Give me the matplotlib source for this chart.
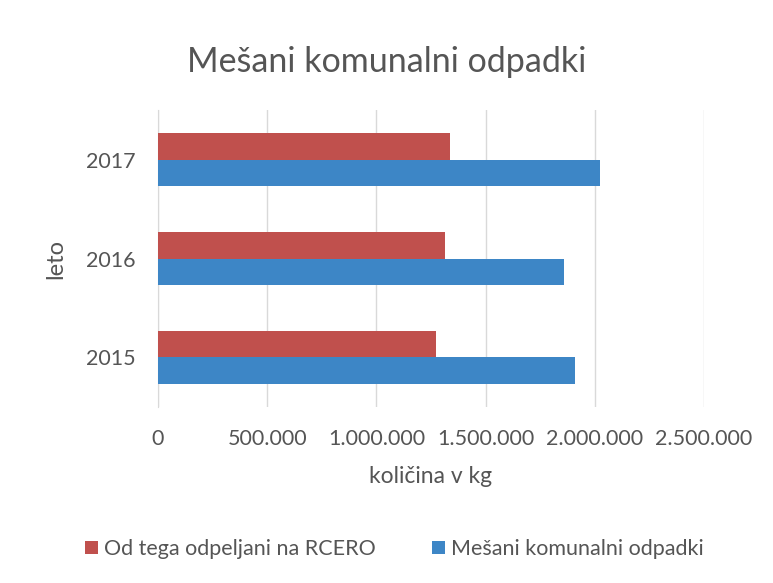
import numpy as np
import matplotlib.pyplot as plt
from matplotlib.ticker import FuncFormatter

years = ["2015", "2016", "2017"]
rcero = [1271000, 1312000, 1339000]
mesani = [1908000, 1858000, 2023000]
series_names = ["Od tega odpeljani na RCERO", "Mešani komunalni odpadki"]
x_ticks = [0, 500000, 1000000, 1500000, 2000000, 2500000]

RED = "#C0504D"
BLUE = "#3D86C6"
TEXT = "#555555"

plt.rcParams["font.family"] = ["Lato", "DejaVu Sans"]


def thousands(v, pos):
    return f"{int(v):,}".replace(",", ".")


fig = plt.figure(figsize=(7.73, 5.83), dpi=100)
ax = fig.add_axes([0.2044, 0.3019, 0.7063, 0.5094])

y = np.arange(len(years))
h = 0.27
ax.barh(y + h / 2, rcero, height=h, color=RED, label=series_names[0], zorder=3)
ax.barh(y - h / 2, mesani, height=h, color=BLUE, label=series_names[1], zorder=3)

ax.set_xlim(0, 2500000)
ax.set_ylim(-0.5, 2.5)
ax.set_xticks(x_ticks)
ax.xaxis.set_major_formatter(FuncFormatter(thousands))
ax.set_yticks(y)
ax.set_yticklabels(years)
ax.tick_params(axis="both", length=0, labelsize=15.5, colors=TEXT)
ax.tick_params(axis="x", pad=16)
ax.tick_params(axis="y", pad=16)
ax.grid(axis="x", color="#D9D9D9", linewidth=1, zorder=0)
for s in ["top", "right", "bottom"]:
    ax.spines[s].set_visible(False)
ax.spines["left"].set_color("#D9D9D9")

ax.set_xlabel("količina v kg", fontsize=16.5, color=TEXT, labelpad=12)
ax.set_ylabel("leto", fontsize=17, color=TEXT, labelpad=14)
fig.text(0.5, 0.893, "Mešani komunalni odpadki", ha="center", va="center",
         fontsize=24.5, color=TEXT)

fig.legend(loc="center", bbox_to_anchor=(0.51, 0.058), ncol=2, frameon=False,
           fontsize=15.5, labelcolor=TEXT, handlelength=0.6, handleheight=0.6,
           handletextpad=0.3, columnspacing=2.6)

fig.savefig("out.png", dpi=100)
